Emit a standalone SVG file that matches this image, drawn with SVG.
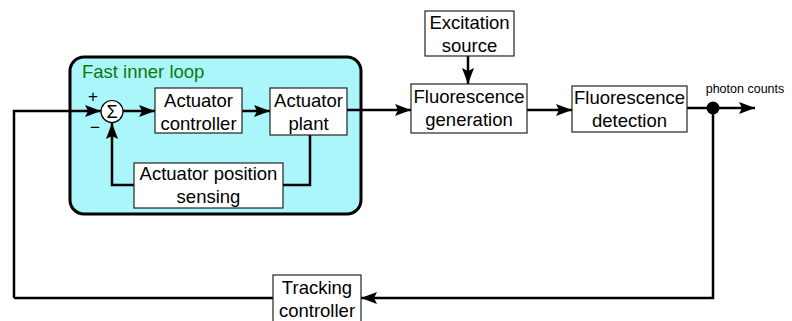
<svg xmlns="http://www.w3.org/2000/svg" width="792" height="321" viewBox="0 0 792 321">
<defs>
<marker id="arr" markerUnits="userSpaceOnUse" markerWidth="16" markerHeight="12" viewBox="0 0 16 12" refX="16" refY="6" orient="auto">
<path d="M0,0 L16,6 L0,12 L3,6 Z" fill="#000"/>
</marker>
</defs>
<style>
.box{fill:#fff;stroke:#222;stroke-width:1.2}
.t{font-family:"Liberation Sans",Arial,sans-serif;font-size:18.5px;fill:#000;text-anchor:middle}
.ln{fill:none;stroke:#000;stroke-width:2.5}
.ar{fill:none;stroke:#000;stroke-width:2.5;marker-end:url(#arr)}
</style>
<rect width="792" height="321" fill="#fff"/>
<g id="inner-loop">
<rect x="70" y="57" width="291" height="157" rx="14" ry="14" fill="#aaf6fb" stroke="#000" stroke-width="3"/>
<text x="82" y="78" style="font-family:'Liberation Sans',Arial,sans-serif;font-size:18.5px;fill:#0a7a0a">Fast inner loop</text>
</g>
<g id="connectors">
<path class="ar" d="M14,298 L14,111 L101,111"/>
<path class="ln" d="M14,298 L273,298"/>
<path class="ar" d="M123,111 L155,111"/>
<path class="ar" d="M242,111 L270,111"/>
<path class="ln" d="M310,135 L310,185 L283,185"/>
<path class="ar" d="M134,185 L112,185 L112,123"/>
<path class="ar" d="M347,110 L411,110"/>
<path class="ar" d="M468,56 L468,84"/>
<path class="ar" d="M527,110 L572,110"/>
<path class="ln" d="M687,108 L713,108"/>
<path class="ar" d="M713,108 L755,108"/>
<path class="ar" d="M713,108 L713,298 L361,298"/>
<circle cx="713" cy="108" r="6.5" fill="#000"/>
<text x="745" y="93" style="font-family:'Liberation Sans',Arial,sans-serif;font-size:12.5px;text-anchor:middle">photon counts</text>
</g>
<g id="sum">
<circle cx="112" cy="111.5" r="11" fill="#fff" stroke="#000" stroke-width="1.2"/>
<text x="112" y="118" class="t" style="font-size:18px">Σ</text>
<text x="93" y="102" class="t" style="font-size:17px">+</text>
<text x="95" y="133" class="t" style="font-size:17px">−</text>
</g>
<g id="actuator-controller">
<rect class="box" x="155" y="88" width="87" height="45"/>
<text class="t" x="198.5" y="107">Actuator</text>
<text class="t" x="198.5" y="130">controller</text>
</g>
<g id="actuator-plant">
<rect class="box" x="270" y="88" width="77" height="47"/>
<text class="t" x="308.5" y="107">Actuator</text>
<text class="t" x="308.5" y="130">plant</text>
</g>
<g id="actuator-position-sensing">
<rect class="box" x="134" y="163" width="149" height="45"/>
<text class="t" x="208.5" y="180">Actuator position</text>
<text class="t" x="208.5" y="203">sensing</text>
</g>
<g id="excitation-source">
<rect class="box" x="425" y="11" width="89" height="45"/>
<text class="t" x="469.5" y="29">Excitation</text>
<text class="t" x="469.5" y="52">source</text>
</g>
<g id="fluorescence-generation">
<rect class="box" x="411" y="84" width="116" height="49"/>
<text class="t" x="469" y="103">Fluorescence</text>
<text class="t" x="469" y="126">generation</text>
</g>
<g id="fluorescence-detection">
<rect class="box" x="572" y="86" width="115" height="46"/>
<text class="t" x="629.5" y="104">Fluorescence</text>
<text class="t" x="629.5" y="127">detection</text>
</g>
<g id="tracking-controller">
<rect class="box" x="273" y="275" width="88" height="50"/>
<text class="t" x="317" y="294">Tracking</text>
<text class="t" x="317" y="317">controller</text>
</g>
</svg>
